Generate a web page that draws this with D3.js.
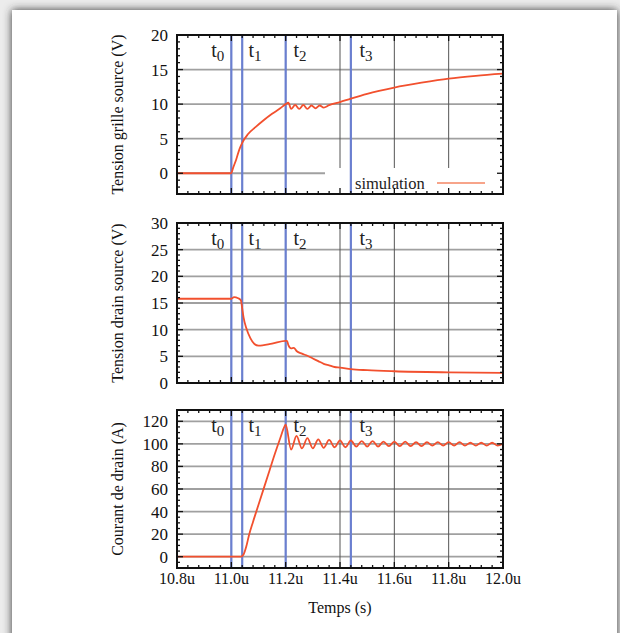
<!DOCTYPE html>
<html><head><meta charset="utf-8">
<script src="https://cdn.jsdelivr.net/npm/d3@7"></script>
<style>body{margin:0;background:#fff}svg{display:block}</style>
</head><body>
<svg id="c" width="620" height="633"></svg>
<script>
// ---------- DATA ----------
const xTicks = [10.8, 11.0, 11.2, 11.4, 11.6, 11.8, 12.0];
const xTickLabels = ["10.8u", "11.0u", "11.2u", "11.4u", "11.6u", "11.8u", "12.0u"];
const phaseTimes = [11.0, 11.04, 11.2, 11.44];
const phaseLabels = ["0", "1", "2", "3"];
const phaseLabelTimes = [10.95, 11.087, 11.253, 11.496];

const vgsTime = [10.8, 11.0, 11.005, 11.018, 11.03, 11.04, 11.06, 11.09, 11.12, 11.15, 11.18, 11.2, 11.21, 11.22, 11.235, 11.25, 11.265, 11.28, 11.295, 11.31, 11.325, 11.34, 11.36, 11.4, 11.44, 11.5, 11.6, 11.7, 11.8, 11.9, 12.0];
const vgsValue = [0, 0, 0.6, 2.0, 3.5, 4.4, 5.6, 6.7, 7.7, 8.6, 9.4, 10.0, 10.2, 9.3, 9.9, 9.3, 9.9, 9.3, 9.8, 9.4, 9.8, 9.5, 9.85, 10.3, 10.8, 11.5, 12.4, 13.1, 13.7, 14.1, 14.4];

const vdsTime = [10.8, 11.0, 11.01, 11.025, 11.035, 11.04, 11.045, 11.055, 11.07, 11.085, 11.1, 11.15, 11.2, 11.205, 11.21, 11.22, 11.23, 11.24, 11.26, 11.28, 11.3, 11.32, 11.34, 11.36, 11.38, 11.4, 11.44, 11.5, 11.6, 11.8, 12.0];
const vdsValue = [15.8, 15.8, 16.1, 15.9, 15.5, 14.0, 12.3, 10.3, 8.4, 7.3, 7.0, 7.4, 7.9, 7.9, 7.1, 6.5, 6.6, 6.0, 5.5, 5.1, 4.6, 4.1, 3.6, 3.3, 3.0, 2.9, 2.6, 2.4, 2.2, 2.0, 1.9];

const idTime = [10.8, 11.0, 11.035, 11.045, 11.055, 11.065, 11.08, 11.1, 11.12, 11.14, 11.16, 11.18, 11.195, 11.2,
  11.22, 11.24, 11.26, 11.28, 11.30, 11.32, 11.34, 11.36, 11.38, 11.40, 11.42, 11.44, 11.46, 11.48, 11.50,
  11.52, 11.54, 11.56, 11.58, 11.60, 11.62, 11.64, 11.66, 11.68, 11.70, 11.72, 11.74, 11.76, 11.78, 11.80,
  11.82, 11.84, 11.86, 11.88, 11.90, 11.92, 11.94, 11.96, 11.98, 12.00];
const idValue = [0, 0, 0, 2, 9, 19, 31, 46, 61, 76, 91, 105, 115, 117,
  95, 107, 96, 105, 96, 104, 96.5, 103.5, 97, 103, 97, 103, 97.5, 102.5, 97.5,
  102.5, 97.5, 102, 98, 102, 98, 102, 98, 101.5, 98, 101.5, 98.5, 101.5, 98.5, 101.5,
  98.5, 101.5, 98.5, 101, 98.5, 101, 98.5, 101, 98.5, 100];

const yLabels = ["Tension grille source (V)", "Tension drain source (V)", "Courant de drain (A)"];
const yDomains = [[-3, 20], [0, 30], [-10, 130]];
const yMajorTicks = [[0, 5, 10, 15, 20], [0, 5, 10, 15, 20, 25, 30], [0, 20, 40, 60, 80, 100, 120]];
const yMinorStep = [1, 1, 5];
const legendLabel = "simulation";
const xLabel = "Temps (s)";

// ---------- LAYOUT ----------
const svg = d3.select("#c");
const FONT = "'Liberation Serif', 'DejaVu Serif', serif";
const left = 177, right = 503;
const panels = [
  {top: 35, bottom: 194, t: vgsTime, v: vgsValue},
  {top: 223, bottom: 383, t: vdsTime, v: vdsValue},
  {top: 410, bottom: 568, t: idTime, v: idValue}
];
const lineColor = "#f2502e";
const blue = "#6a7fd0";

// background & card
const defs = svg.append("defs");
const f = defs.append("filter").attr("id", "sh").attr("x", "-10%").attr("y", "-10%").attr("width", "120%").attr("height", "120%");
f.append("feDropShadow").attr("dx", 0).attr("dy", 0).attr("stdDeviation", 4).attr("flood-color", "#333").attr("flood-opacity", 1);
svg.append("rect").attr("width", 620).attr("height", 633).attr("fill", "#ececec");
svg.append("rect").attr("x", 12).attr("y", 10).attr("width", 605).attr("height", 640).attr("fill", "#fff").attr("filter", "url(#sh)");

const x = d3.scaleLinear().domain([10.8, 12.0]).range([left, right]);
const xMinor = d3.range(10.8, 12.0001, 0.04).map(d => +d.toFixed(3));

panels.forEach((p, i) => {
  const y = d3.scaleLinear().domain(yDomains[i]).range([p.bottom, p.top]);
  const g = svg.append("g");
  const clipId = "clip" + i;
  defs.append("clipPath").attr("id", clipId).append("rect")
    .attr("x", left).attr("y", p.top).attr("width", right - left).attr("height", p.bottom - p.top);

  // horizontal grid
  g.append("g").selectAll("line").data(yMajorTicks[i].filter(d => d > yDomains[i][0] && d < yDomains[i][1]))
    .join("line").attr("x1", left).attr("x2", right).attr("y1", d => y(d)).attr("y2", d => y(d))
    .attr("stroke", "#a0a0a0").attr("stroke-width", 1.8);
  // vertical grid
  g.append("g").selectAll("line").data(xTicks.slice(1, -1))
    .join("line").attr("x1", d => x(d)).attr("x2", d => x(d)).attr("y1", p.top).attr("y2", p.bottom)
    .attr("stroke", "#555").attr("stroke-width", 1);

  // legend box (first panel) masks grid
  if (i === 0) {
    const lx = left + 148, ly = 168;
    g.append("rect").attr("x", lx).attr("y", ly).attr("width", right - lx).attr("height", p.bottom - ly).attr("fill", "#fff");
    g.append("text").attr("x", 355).attr("y", 189).attr("font-family", FONT).attr("font-size", 16.5)
      .attr("fill", "#222").text(legendLabel);
    g.append("line").attr("x1", 437).attr("x2", 485).attr("y1", 183).attr("y2", 183)
      .attr("stroke", "#f7a48a").attr("stroke-width", 2.2);
  }

  // phase lines
  g.append("g").selectAll("line").data(phaseTimes).join("line")
    .attr("x1", d => x(d)).attr("x2", d => x(d)).attr("y1", p.top).attr("y2", p.bottom)
    .attr("stroke", blue).attr("stroke-width", 2.2);

  // phase labels
  const lab = g.append("g").selectAll("text").data(phaseLabels).join("text")
    .attr("x", (d, k) => x(phaseLabelTimes[k])).attr("y", p.top + 22)
    .attr("text-anchor", "middle").attr("font-family", FONT).attr("font-size", 20).attr("fill", "#222");
  lab.append("tspan").text("t");
  lab.append("tspan").attr("dy", 4).attr("font-size", 15).text(d => d);

  // data line
  const pts = p.t.map((t, k) => [t, p.v[k]]);
  g.append("path").datum(pts).attr("clip-path", `url(#${clipId})`)
    .attr("d", d3.line().x(d => x(d[0])).y(d => y(d[1])).curve(d3.curveMonotoneX))
    .attr("fill", "none").attr("stroke", lineColor).attr("stroke-width", 1.8);

  // ticks (inward, all four sides)
  const tk = g.append("g").attr("stroke", "#111").attr("stroke-width", 1.3);
  xMinor.forEach(v => {
    const major = xTicks.some(t => Math.abs(t - v) < 1e-6);
    const L = major ? 6 : 3;
    tk.append("line").attr("x1", x(v)).attr("x2", x(v)).attr("y1", p.bottom).attr("y2", p.bottom - L);
    tk.append("line").attr("x1", x(v)).attr("x2", x(v)).attr("y1", p.top).attr("y2", p.top + L);
  });
  const ys = d3.range(yDomains[i][0], yDomains[i][1] + 1e-6, yMinorStep[i]);
  ys.forEach(v => {
    const major = yMajorTicks[i].includes(v);
    const L = major ? 6 : 3;
    tk.append("line").attr("x1", left).attr("x2", left + L).attr("y1", y(v)).attr("y2", y(v));
    tk.append("line").attr("x1", right).attr("x2", right - L).attr("y1", y(v)).attr("y2", y(v));
  });

  // y tick labels
  g.append("g").selectAll("text").data(yMajorTicks[i]).join("text")
    .attr("x", left - 9).attr("y", d => y(d)).attr("dy", "0.35em").attr("text-anchor", "end")
    .attr("font-family", FONT).attr("font-size", 17).attr("fill", "#111").text(d => d);

  // frame
  g.append("rect").attr("x", left).attr("y", p.top).attr("width", right - left).attr("height", p.bottom - p.top)
    .attr("fill", "none").attr("stroke", "#111").attr("stroke-width", 2);

  // y axis label
  g.append("text").attr("transform", `translate(123,${(p.top + p.bottom) / 2}) rotate(-90)`)
    .attr("text-anchor", "middle").attr("font-family", FONT).attr("font-size", 16).attr("fill", "#111")
    .text(yLabels[i]);

  // x tick labels (bottom panel only)
  if (i === 2) {
    g.append("g").selectAll("text").data(xTicks).join("text")
      .attr("x", d => x(d)).attr("y", p.bottom + 16).attr("text-anchor", "middle")
      .attr("font-family", FONT).attr("font-size", 16).attr("fill", "#111")
      .text((d, k) => xTickLabels[k]);
    g.append("text").attr("x", (left + right) / 2).attr("y", 613).attr("text-anchor", "middle")
      .attr("font-family", FONT).attr("font-size", 16).attr("fill", "#111").text(xLabel);
  }
});
</script>
</body></html>
